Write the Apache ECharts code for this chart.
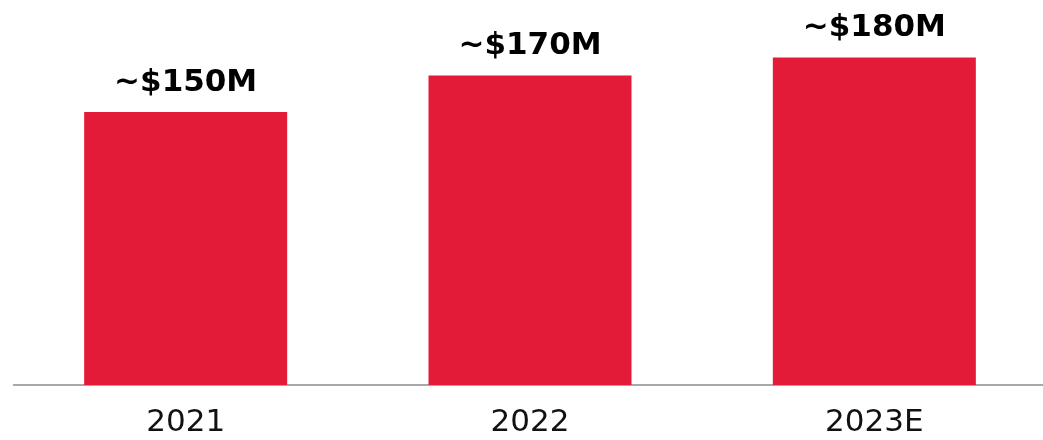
<!DOCTYPE html>
<html>
<head>
<meta charset="utf-8">
<style>
html,body{margin:0;padding:0;background:#fff;}
#chart{width:1043px;height:440px;}
</style>
<script src="https://cdn.jsdelivr.net/npm/echarts@6/dist/echarts.min.js"></script>
</head>
<body>
<div id="chart"></div>
<script>
var categories = ['2021', '2022', '2023E'];
var values = [150, 170, 180];
var valueLabels = ['~$150M', '~$170M', '~$180M'];

var chart = echarts.init(document.getElementById('chart'), null, {renderer: 'canvas'});
chart.setOption({
  animation: false,
  grid: {left: 13.5, width: 1033, top: 21, bottom: 55, containLabel: false, outerBoundsMode: 'none'},
  xAxis: {
    type: 'category',
    data: categories,
    axisLine: {show: true, lineStyle: {color: '#8c8c8c', width: 1.5}},
    axisTick: {show: false},
    axisLabel: {
      color: '#111',
      fontFamily: 'DejaVu Sans',
      fontSize: 31,
      margin: 22
    }
  },
  yAxis: {
    type: 'value',
    min: 0,
    max: 200,
    show: false,
    splitLine: {show: false}
  },
  series: [{
    type: 'bar',
    data: values,
    barWidth: 203,
    itemStyle: {color: '#E31A38'},
    label: {
      show: true,
      position: 'top',
      distance: 14,
      color: '#000',
      fontFamily: 'DejaVu Sans',
      fontWeight: 'bold',
      fontSize: 31,
      formatter: function (p) { return valueLabels[p.dataIndex]; }
    }
  }]
});
</script>
</body>
</html>
